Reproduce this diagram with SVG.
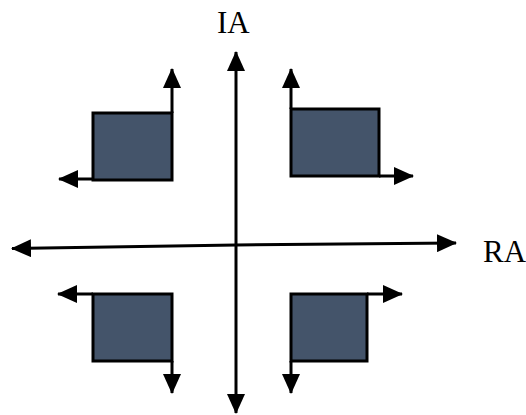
<svg xmlns="http://www.w3.org/2000/svg" width="526" height="415" viewBox="0 0 526 415">
<style>
.box{fill:#44546A;stroke:#000;stroke-width:3}
.ax{stroke:#000;stroke-width:3;fill:none;marker-end:url(#ah)}
.lbl{font-family:"Liberation Serif","Times New Roman",serif;font-size:31px;fill:#000}
</style>
<defs>
<marker id="ah" viewBox="0 0 20 18" refX="19" refY="9" markerWidth="20" markerHeight="18" markerUnits="userSpaceOnUse" orient="auto"><path d="M0,0 L20,9 L0,18 z" fill="#000"/></marker>
</defs>
<rect width="526" height="415" fill="#fff"/>
<g id="connectors">
<line class="ax" x1="236" y1="246" x2="236" y2="52"/>
<line class="ax" x1="236" y1="246" x2="236" y2="413"/>
<line class="ax" x1="236" y1="245" x2="12" y2="248.5"/>
<line class="ax" x1="236" y1="245" x2="456" y2="243"/>
<line class="ax" x1="172" y1="113" x2="172" y2="69"/>
<line class="ax" x1="93" y1="179" x2="59" y2="179"/>
<line class="ax" x1="291" y1="109" x2="291" y2="69"/>
<line class="ax" x1="379" y1="176" x2="413" y2="176"/>
<line class="ax" x1="93" y1="294" x2="58" y2="294"/>
<line class="ax" x1="172" y1="361" x2="172" y2="393"/>
<line class="ax" x1="367" y1="294" x2="402" y2="294"/>
<line class="ax" x1="291" y1="361" x2="291" y2="393"/>
</g>
<g id="box-top-left"><rect class="box" x="93" y="113" width="79" height="67"/></g>
<g id="box-top-right"><rect class="box" x="291" y="109" width="88" height="67"/></g>
<g id="box-bottom-left"><rect class="box" x="93" y="294" width="79" height="67"/></g>
<g id="box-bottom-right"><rect class="box" x="291" y="294" width="76" height="67"/></g>
<g id="label-IA"><text class="lbl" x="217" y="33">IA</text></g>
<g id="label-RA"><text class="lbl" x="483" y="262">RA</text></g>
</svg>
